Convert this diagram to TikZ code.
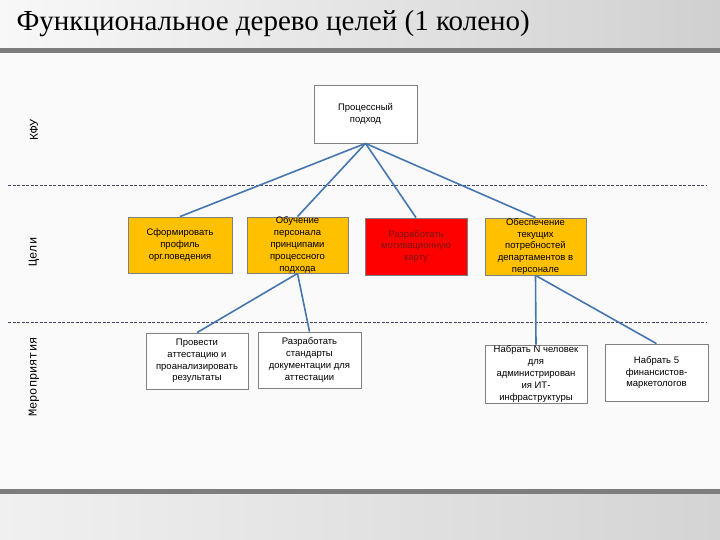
\documentclass[tikz,border=0pt]{standalone}
\usepackage{fontspec}
\setmainfont{Liberation Serif}
\newfontfamily\boxfont{Liberation Sans}
\newfontfamily\sidefont{Liberation Mono}
\definecolor{pagebg}{RGB}{250,250,250}
\definecolor{barL}{RGB}{248,248,248}
\definecolor{barR}{RGB}{208,208,208}
\definecolor{barline}{RGB}{125,125,125}
\definecolor{conn}{RGB}{70,118,176}
\definecolor{dashc}{RGB}{70,70,100}
\definecolor{orangebox}{RGB}{255,192,0}
\definecolor{redbox}{RGB}{255,0,0}
\definecolor{redtext}{RGB}{120,20,20}
\definecolor{boxborder}{RGB}{128,128,128}
\tikzset{
  goalbox/.style={draw=boxborder, line width=0.8pt, fill=orangebox, inner sep=0pt,
    align=center, font=\boxfont\fontsize{9.5}{11.8}\selectfont, anchor=center},
  whitebox/.style={goalbox, fill=white},
  redgoal/.style={goalbox, fill=redbox, text=redtext},
  link/.style={draw=conn, line width=1.6pt},
  sep/.style={draw=dashc, line width=0.6pt, dash pattern=on 3pt off 1.5pt},
  sidelabel/.style={font=\sidefont\fontsize{12}{14}\selectfont, rotate=90, anchor=center}
}
\begin{document}
\begin{tikzpicture}[x=1pt,y=-1pt]
\useasboundingbox (0,0) rectangle (720,540);
\fill[pagebg] (0,0) rectangle (720,540);
% title bar
\shade[left color=barL, right color=barR] (0,0) rectangle (720,48);
\fill[barline] (0,48) rectangle (720,53);
\node[anchor=west, font=\fontsize{29}{32}\selectfont] (title) at (13,23.5) {Функциональное дерево целей (1 колено)};
% bottom bar
\fill[barline] (0,489) rectangle (720,494);
\shade[left color={rgb,255:red,240;green,240;blue,240}, right color={rgb,255:red,212;green,212;blue,212}] (0,494) rectangle (720,540);
% separators
\coordinate (s1a) at (8,185);
\coordinate (s1b) at (707,185);
\coordinate (s2a) at (8,322);
\coordinate (s2b) at (707,322);
\draw[sep] (s1a) -- (s1b);
\draw[sep] (s2a) -- (s2b);
% side labels
\node[sidelabel] (kfu) at (34,130) {КФУ};
\node[sidelabel] (goals) at (34,252) {Цели};
\node[sidelabel] (events) at (34,377) {Мероприятия};
% boxes
\node[whitebox, minimum width=103pt, minimum height=58pt] (top) at (365.5,114) {Процессный\\подход};
\node[goalbox, minimum width=104pt, minimum height=56pt] (m1) at (180,245) {Сформировать\\профиль\\орг.поведения};
\node[goalbox, minimum width=101pt, minimum height=56pt] (m2) at (297.5,245) {Обучение\\персонала\\принципами\\процессного\\подхода};
\node[redgoal, minimum width=102pt, minimum height=57pt] (m3) at (416,246.5) {Разработать\\мотивационную\\карту};
\node[goalbox, minimum width=101pt, minimum height=57pt] (m4) at (535.5,246.5) {Обеспечение\\текущих\\потребностей\\департаментов в\\персонале};
\node[whitebox, minimum width=102pt, minimum height=56pt] (b1) at (197,361) {Провести\\аттестацию и\\проанализировать\\результаты};
\node[whitebox, minimum width=103pt, minimum height=56pt] (b2) at (309.5,360) {Разработать\\стандарты\\документации для\\аттестации};
\node[whitebox, minimum width=102pt, minimum height=58pt] (b3) at (536,374) {Набрать N человек\\для\\администрирован\\ия ИТ-\\инфраструктуры};
\node[whitebox, minimum width=103pt, minimum height=57pt] (b4) at (656.5,372.5) {Набрать 5\\финансистов-\\маркетологов};
% connectors
\draw[link] (top.south) -- (m1.north);
\draw[link] (top.south) -- (m2.north);
\draw[link] (top.south) -- (m3.north);
\draw[link] (top.south) -- (m4.north);
\draw[link] (m2.south) -- (b1.north);
\draw[link] (m2.south) -- (b2.north);
\draw[link] (m4.south) -- (b3.north);
\draw[link] (m4.south) -- (b4.north);
\end{tikzpicture}
\end{document}
